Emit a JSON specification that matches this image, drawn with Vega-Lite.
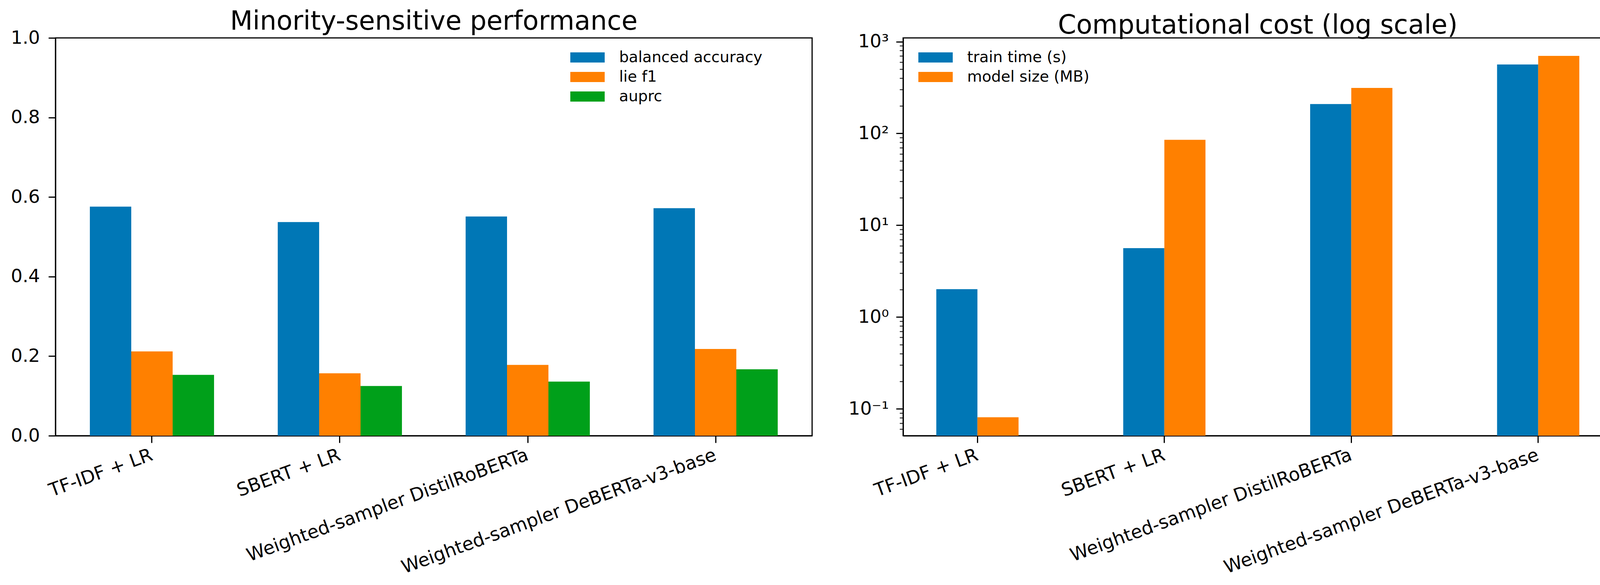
{
  "$schema": "https://vega.github.io/schema/vega-lite/v6.json",
  "description": "Minority-sensitive performance and computational cost of four text classifiers.",
  "background": "white",
  "padding": {"left": 25, "top": 20, "right": 0, "bottom": 0},
  "config": {
    "font": "DejaVu Sans",
    "view": {"stroke": "black", "strokeWidth": 3},
    "axis": {
      "domainColor": "black",
      "domainWidth": 3,
      "tickColor": "black",
      "tickWidth": 3,
      "tickSize": 18,
      "labelFont": "DejaVu Sans",
      "labelFontSize": 47,
      "labelColor": "black",
      "labelLimit": 0,
      "grid": false,
      "title": null
    },
    "axisX": {
      "labelAngle": -20,
      "labelAlign": "right",
      "labelBaseline": "top",
      "labelPadding": 8,
      "labelOffset": -8
    },
    "axisY": {"labelPadding": 22},
    "legend": {
      "orient": "none",
      "title": null,
      "padding": 0,
      "labelFont": "DejaVu Sans",
      "labelFontSize": 39,
      "labelColor": "black",
      "labelLimit": 0,
      "labelOffset": 55,
      "rowPadding": 4,
      "symbolType": "M-1.7,-0.5H1.7V0.5H-1.7Z",
      "symbolSize": 2680,
      "symbolStrokeWidth": 0,
      "symbolOpacity": 1
    },
    "title": {
      "font": "DejaVu Sans",
      "fontSize": 67,
      "fontWeight": "normal",
      "color": "black",
      "anchor": "middle",
      "frame": "group",
      "baseline": "alphabetic",
      "offset": -17
    }
  },
  "datasets": {
    "perf": [
      {"model": "TF-IDF + LR", "metric": "balanced accuracy", "value": 0.576},
      {"model": "TF-IDF + LR", "metric": "lie f1", "value": 0.212},
      {"model": "TF-IDF + LR", "metric": "auprc", "value": 0.153},
      {"model": "SBERT + LR", "metric": "balanced accuracy", "value": 0.537},
      {"model": "SBERT + LR", "metric": "lie f1", "value": 0.157},
      {"model": "SBERT + LR", "metric": "auprc", "value": 0.125},
      {"model": "Weighted-sampler DistilRoBERTa", "metric": "balanced accuracy", "value": 0.551},
      {"model": "Weighted-sampler DistilRoBERTa", "metric": "lie f1", "value": 0.178},
      {"model": "Weighted-sampler DistilRoBERTa", "metric": "auprc", "value": 0.136},
      {"model": "Weighted-sampler DeBERTa-v3-base", "metric": "balanced accuracy", "value": 0.572},
      {"model": "Weighted-sampler DeBERTa-v3-base", "metric": "lie f1", "value": 0.218},
      {"model": "Weighted-sampler DeBERTa-v3-base", "metric": "auprc", "value": 0.167}
    ],
    "cost": [
      {"model": "TF-IDF + LR", "metric": "train time (s)", "value": 2.01},
      {"model": "TF-IDF + LR", "metric": "model size (MB)", "value": 0.081},
      {"model": "SBERT + LR", "metric": "train time (s)", "value": 5.63},
      {"model": "SBERT + LR", "metric": "model size (MB)", "value": 85.3},
      {"model": "Weighted-sampler DistilRoBERTa", "metric": "train time (s)", "value": 209},
      {"model": "Weighted-sampler DistilRoBERTa", "metric": "model size (MB)", "value": 313},
      {"model": "Weighted-sampler DeBERTa-v3-base", "metric": "train time (s)", "value": 564},
      {"model": "Weighted-sampler DeBERTa-v3-base", "metric": "model size (MB)", "value": 700}
    ]
  },
  "spacing": 89,
  "hconcat": [
    {
      "title": "Minority-sensitive performance",
      "width": 1937,
      "height": 1018,
      "data": {"name": "perf"},
      "mark": {"type": "bar"},
      "encoding": {
        "x": {
          "field": "model",
          "type": "nominal",
          "sort": null,
          "scale": {"paddingInner": 0.339, "paddingOuter": 0.183}
        },
        "xOffset": {
          "field": "metric",
          "type": "nominal",
          "sort": null,
          "scale": {"paddingInner": 0, "paddingOuter": 0}
        },
        "y": {
          "field": "value",
          "type": "quantitative",
          "scale": {"domain": [0, 1], "nice": false},
          "axis": {"values": [0, 0.2, 0.4, 0.6, 0.8, 1.0], "format": ".1f"}
        },
        "color": {
          "field": "metric",
          "type": "nominal",
          "sort": null,
          "scale": {
            "domain": ["balanced accuracy", "lie f1", "auprc"],
            "range": ["#0077B6", "#FF8000", "#00A01A"]
          },
          "legend": {"legendX": 1336, "legendY": 24}
        }
      }
    },
    {
      "title": "Computational cost (log scale)",
      "width": 1816,
      "height": 1018,
      "data": {"name": "cost"},
      "mark": {"type": "bar"},
      "encoding": {
        "x": {
          "field": "model",
          "type": "nominal",
          "sort": null,
          "scale": {"paddingInner": 0.56, "paddingOuter": 0.1775}
        },
        "xOffset": {
          "field": "metric",
          "type": "nominal",
          "sort": null,
          "scale": {"paddingInner": 0, "paddingOuter": 0}
        },
        "y": {
          "field": "value",
          "type": "quantitative",
          "scale": {"type": "log", "domain": [0.051, 1098], "nice": false},
          "axis": {
            "values": [0.06, 0.07, 0.08, 0.09, 0.1, 0.2, 0.3, 0.4, 0.5, 0.6, 0.7, 0.8, 0.9, 1, 2, 3, 4, 5, 6, 7, 8, 9, 10, 20, 30, 40, 50, 60, 70, 80, 90, 100, 200, 300, 400, 500, 600, 700, 800, 900, 1000],
            "labelExpr": "datum.value == 0.1 ? '10⁻¹' : datum.value == 1 ? '10⁰' : datum.value == 10 ? '10¹' : datum.value == 100 ? '10²' : datum.value == 1000 ? '10³' : ''",
            "labelPadding": 19,
            "tickSize": {"condition": {"test": "indexof([0.1, 1, 10, 100, 1000], datum.value) >= 0", "value": 18}, "value": 9},
            "tickWidth": {"condition": {"test": "indexof([0.1, 1, 10, 100, 1000], datum.value) >= 0", "value": 3}, "value": 2}
          }
        },
        "y2": {"datum": 0.051},
        "color": {
          "field": "metric",
          "type": "nominal",
          "sort": null,
          "scale": {
            "domain": ["train time (s)", "model size (MB)"],
            "range": ["#0077B6", "#FF8000"]
          },
          "legend": {"legendX": 57, "legendY": 24}
        }
      }
    }
  ],
  "resolve": {"scale": {"color": "independent", "xOffset": "independent"}}
}
